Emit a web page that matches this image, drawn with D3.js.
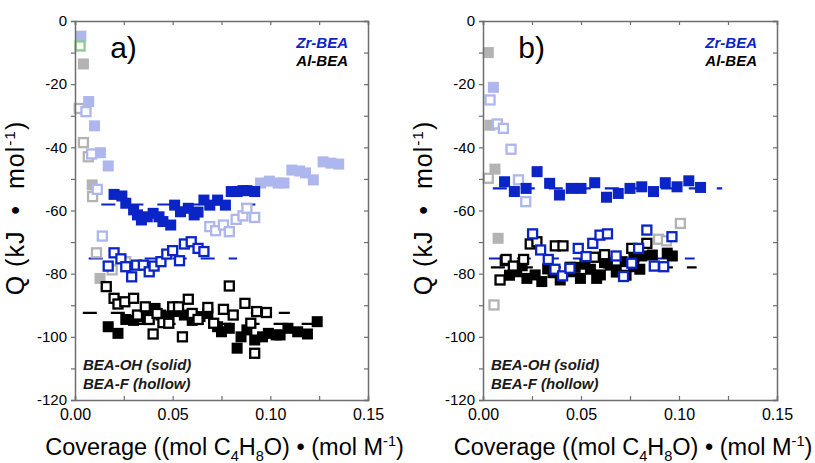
<!DOCTYPE html>
<html>
<head>
<meta charset="utf-8">
<script src="https://cdn.jsdelivr.net/npm/d3@7"></script>
<style>
  body { margin: 0; background: #fff; }
  text { font-family: Arial, "Liberation Sans", sans-serif; }
</style>
</head>
<body>
<svg id="chart" width="815" height="463"></svg>
<script>
// ---- data: [coverage, Q] ----
// panel a
const zrOH_a = [[0.020,-54.9],[0.024,-55.4],[0.026,-57.7],[0.030,-59.8],[0.032,-61.4],[0.034,-63.0],[0.037,-62.0],[0.040,-60.9],[0.043,-62.0],[0.045,-63.5],[0.049,-64.6],[0.051,-58.3],[0.054,-60.4],[0.058,-59.3],[0.061,-61.4],[0.063,-60.5],[0.066,-56.7],[0.069,-58.3],[0.073,-56.7],[0.077,-58.3],[0.080,-54.0],[0.083,-54.0],[0.086,-53.7],[0.088,-53.7],[0.092,-54.0]];
const zrOHpale_a = [[0.003,-4.8],[0.007,-25.5],[0.010,-33.2],[0.013,-41.7],[0.017,-45.9],[0.095,-51.3],[0.0995,-50.7],[0.104,-51.3],[0.107,-51.3],[0.111,-47.2],[0.115,-47.5],[0.118,-48.1],[0.122,-50.3],[0.127,-44.6],[0.131,-45.0],[0.135,-45.3]];
const zrF_a = [[0.017,-77.6],[0.020,-73.4],[0.0235,-75.3],[0.026,-77.8],[0.029,-81.0],[0.0315,-77.3],[0.035,-77.3],[0.038,-79.4],[0.0405,-77.6],[0.044,-76.2],[0.047,-73.8],[0.050,-72.7],[0.0535,-75.9],[0.056,-70.6],[0.0595,-69.9],[0.063,-72.0],[0.066,-73.0]];
const zrFpale_a = [[0.0056,-28.7],[0.0085,-42.1],[0.0114,-53.3],[0.014,-68.1],[0.069,-65.1],[0.072,-66.4],[0.076,-64.6],[0.079,-66.7],[0.0825,-62.8],[0.086,-61.7],[0.088,-59.3],[0.092,-62.2]];
const greenPale_a = [[0.0026,-7.9]];
const alOH_a = [[0.017,-96.8],[0.022,-98.9],[0.026,-94.5],[0.030,-94.8],[0.034,-93.6],[0.037,-94.5],[0.041,-91.0],[0.044,-93.1],[0.048,-93.6],[0.052,-92.0],[0.056,-93.1],[0.060,-94.8],[0.064,-93.6],[0.068,-92.6],[0.073,-96.8],[0.075,-98.4],[0.079,-97.3],[0.083,-103.6],[0.085,-100.0],[0.088,-97.8],[0.092,-101.0],[0.096,-100.0],[0.099,-98.9],[0.103,-99.4],[0.105,-99.4],[0.109,-97.3],[0.114,-98.4],[0.119,-99.1],[0.124,-95.2]];
const alOHpale_a = [[0.0043,-13.6],[0.0088,-51.9],[0.0128,-81.5]];
const alF_a = [[0.016,-84.1],[0.020,-87.8],[0.022,-89.6],[0.0255,-88.9],[0.030,-87.8],[0.032,-93.1],[0.036,-90.5],[0.038,-94.5],[0.040,-99.1],[0.042,-92.6],[0.045,-95.5],[0.048,-95.7],[0.050,-90.5],[0.053,-90.5],[0.055,-100.0],[0.058,-88.1],[0.060,-92.6],[0.063,-94.5],[0.068,-90.7],[0.071,-95.7],[0.076,-91.3],[0.079,-83.9],[0.081,-93.1],[0.087,-89.4],[0.090,-95.7],[0.092,-105.2],[0.093,-92.0],[0.098,-92.3]];
const alFpale_a = [[0.0022,-27.7],[0.0043,-38.5],[0.0068,-43.0],[0.009,-55.6],[0.011,-73.4],[0.019,-78.8],[0.026,-76.2]];

// panel b
const zrOH_b = [[0.011,-50.9],[0.016,-54.0],[0.022,-53.0],[0.0276,-47.7],[0.034,-51.4],[0.039,-55.1],[0.045,-53.0],[0.050,-53.0],[0.057,-51.2],[0.063,-55.8],[0.069,-54.6],[0.075,-53.0],[0.081,-52.5],[0.087,-54.0],[0.093,-51.2],[0.099,-52.5],[0.105,-50.6],[0.111,-52.7]];
const zrOHpale_b = [[0.0053,-21.0]];
const zrF_b = [[0.0253,-67.4],[0.0294,-72.5],[0.0333,-75.5],[0.0367,-78.6],[0.0406,-80.7],[0.0444,-78.3],[0.0486,-72.0],[0.0526,-74.6],[0.056,-70.4],[0.0597,-67.8],[0.0635,-67.4],[0.0679,-74.4],[0.0717,-80.9],[0.0759,-76.7],[0.0794,-72.0],[0.0836,-66.2],[0.0874,-77.6],[0.0922,-77.8],[0.0964,-68.3]];
const zrFpale_b = [[0.0036,-25.0],[0.0073,-32.6],[0.0104,-34.0],[0.0143,-40.6],[0.0181,-50.3],[0.0218,-57.2]];
const alOH_b = [[0.0113,-75.9],[0.0135,-80.5],[0.0172,-79.4],[0.020,-77.5],[0.0224,-81.5],[0.0266,-80.4],[0.030,-82.5],[0.033,-78.5],[0.0357,-79.7],[0.0394,-82.0],[0.0445,-79.4],[0.047,-78.0],[0.0497,-81.5],[0.052,-77.0],[0.0548,-78.6],[0.058,-81.5],[0.0599,-80.4],[0.062,-76.5],[0.065,-77.3],[0.068,-79.5],[0.071,-76.2],[0.073,-80.5],[0.0769,-77.8],[0.077,-74.7],[0.080,-78.6],[0.081,-74.4],[0.0864,-74.1],[0.094,-73.5],[0.0966,-74.4]];
const alOHpale_b = [[0.0027,-10.0],[0.0036,-33.0],[0.0061,-46.9],[0.0077,-68.8]];
const alF_b = [[0.0087,-82.0],[0.0118,-75.5],[0.0155,-77.6],[0.0207,-75.5],[0.0241,-70.6],[0.0275,-69.9],[0.0369,-71.2],[0.0408,-71.2],[0.0445,-78.0],[0.0568,-74.8],[0.062,-74.0],[0.068,-76.0],[0.0759,-72.0],[0.0836,-70.4]];
const alFpale_b = [[0.0027,-49.8],[0.0056,-89.9],[0.0896,-69.1],[0.0936,-69.6],[0.1007,-64.1]];

// average lines: [Q, from, to]
const avg_a = { zrOH: [-58.1, 0.0135, 0.093], zrF: [-75.2, 0.007, 0.083], alF: [-92.4, 0.004, 0.11], alOH: [-95.9, 0.03, 0.125] };
const avg_b = { zrOH: [-53.0, 0.005, 0.122], zrF: [-75.2, 0.003, 0.108], al: [-78.0, 0.004, 0.109] };

const xDomain = [0, 0.15];
const yDomain = [-120, 0];
const xLabels = [0, 0.05, 0.10, 0.15];

// ---- drawing ----
const BLUE = '#0a24c6', PALE_BLUE = '#aeb6ee', GRAY = '#b3b3b3';
const svg = d3.select('#chart');

function richText(sel, parts, size) {
  // parts: [text, shift] shift: 0 normal, 1 sup, -1 sub
  let cur = 0;
  parts.forEach(([t, s]) => {
    const target = s === 1 ? -size * 0.38 : s === -1 ? size * 0.25 : 0;
    sel.append('tspan')
      .attr('dy', target - cur)
      .style('font-size', (s ? size * 0.62 : size) + 'px')
      .text(t);
    cur = target;
  });
}

function drawPanel(cfg) {
  const x = d3.scaleLinear().domain(xDomain).range([cfg.left, cfg.right]);
  const y = d3.scaleLinear().domain(yDomain).range([400, 21]);
  const g = svg.append('g');

  // average dashes
  Object.values(cfg.avg).forEach(([q, a, b], i) => {
    g.append('line')
      .attr('x1', x(a)).attr('x2', x(b))
      .attr('y1', y(q)).attr('y2', y(q))
      .attr('stroke', cfg.avgColors[i])
      .attr('stroke-width', 2.2)
      .attr('stroke-dasharray', '14,14');
  });

  function solid(data, color) {
    g.append('g').selectAll('rect').data(data).enter().append('rect')
      .attr('x', d => x(d[0]) - 5.5).attr('y', d => y(d[1]) - 5.5)
      .attr('width', 11).attr('height', 11)
      .attr('fill', color);
  }
  function hollow(data, color) {
    g.append('g').selectAll('rect').data(data).enter().append('rect')
      .attr('x', d => x(d[0]) - 4.5).attr('y', d => y(d[1]) - 4.5)
      .attr('width', 9).attr('height', 9)
      .attr('fill', '#fff').attr('stroke', color).attr('stroke-width', 2.3);
  }
  cfg.series.forEach(s => (s.solid ? solid : hollow)(s.data, s.color));

  // axes
  const axisColor = '#6e6e6e';
  const left = g.append('g').attr('transform', `translate(${cfg.left},0)`)
    .call(d3.axisLeft(y).tickValues(d3.range(-120, 1, 10)).tickSize(4).tickPadding(4)
      .tickFormat(d => d % 20 === 0 ? String(d) : ''));
  const right = g.append('g').attr('transform', `translate(${cfg.right},0)`)
    .call(d3.axisLeft(y).tickValues(d3.range(-120, 1, 10)).tickSize(4).tickFormat(''));
  const top = g.append('g').attr('transform', 'translate(0,21)')
    .call(d3.axisBottom(x).tickValues(d3.range(0, 0.151, 0.025)).tickSize(4).tickFormat(''));
  const bottom = g.append('g').attr('transform', 'translate(0,400)')
    .call(d3.axisTop(x).tickValues(d3.range(0, 0.151, 0.025)).tickSize(4).tickFormat(''));
  const labels = g.append('g').attr('transform', 'translate(0,400)')
    .call(d3.axisBottom(x).tickValues(xLabels).tickSize(0).tickPadding(9).tickFormat(d3.format('.2f')));
  labels.select('.domain').remove();
  [left, right, top, bottom].forEach(a => {
    a.select('.domain').attr('stroke', axisColor).attr('stroke-width', 1.5);
    a.selectAll('.tick line').attr('stroke', axisColor).attr('stroke-width', 1.2);
  });
  left.selectAll('.tick text').style('font-size', '15px').attr('fill', '#000');
  labels.selectAll('.tick text').style('font-size', '16px').attr('fill', '#000');

  // panel letter
  g.append('text').attr('x', x(0.018)).attr('y', 58)
    .style('font-size', '30px').text(cfg.letter);

  // legend
  g.append('text').attr('x', cfg.right - 20).attr('y', 48).attr('text-anchor', 'end')
    .style('font-size', '15px').style('font-weight', 'bold').style('font-style', 'italic')
    .attr('fill', BLUE).text('Zr-BEA');
  g.append('text').attr('x', cfg.right - 20).attr('y', 66).attr('text-anchor', 'end')
    .style('font-size', '15px').style('font-weight', 'bold').style('font-style', 'italic')
    .text('Al-BEA');
  g.append('text').attr('x', cfg.left + 8).attr('y', 370)
    .style('font-size', '15px').style('font-weight', 'bold').style('font-style', 'italic')
    .attr('fill', '#1a1a1a').text('BEA-OH (solid)');
  g.append('text').attr('x', cfg.left + 8).attr('y', 389)
    .style('font-size', '15px').style('font-weight', 'bold').style('font-style', 'italic')
    .attr('fill', '#1a1a1a').text('BEA-F (hollow)');

  // axis titles
  const yt = g.append('text')
    .attr('transform', `translate(${cfg.left - 51},208) rotate(-90)`)
    .attr('text-anchor', 'middle')
    .style('letter-spacing', '1px');
  richText(yt, [['Q (kJ\u00a0\u00a0\u2022\u00a0\u00a0mol', 0], ['-1', 1], [')', 0]], 25);

  const xt = g.append('text')
    .attr('x', (cfg.left + cfg.right) / 2 + 3).attr('y', 455)
    .attr('text-anchor', 'middle');
  richText(xt, [['Coverage ((mol C', 0], ['4', -1], ['H', 0], ['8', -1], ['O) \u2022 (mol M', 0], ['-1', 1], [')', 0]], 23.5);
}

drawPanel({
  letter: 'a)', left: 75, right: 368, avg: avg_a,
  avgColors: [BLUE, BLUE, '#000', '#000'],
  series: [
    { data: alOHpale_a, color: GRAY, solid: true },
    { data: alFpale_a, color: GRAY, solid: false },
    { data: zrOHpale_a, color: PALE_BLUE, solid: true },
    { data: zrFpale_a, color: PALE_BLUE, solid: false },
    { data: greenPale_a, color: '#8cc98c', solid: false },
    { data: zrOH_a, color: BLUE, solid: true },
    { data: zrF_a, color: BLUE, solid: false },
    { data: alOH_a, color: '#000', solid: true },
    { data: alF_a, color: '#000', solid: false }
  ]
});

drawPanel({
  letter: 'b)', left: 483, right: 777, avg: avg_b,
  avgColors: [BLUE, BLUE, '#000'],
  series: [
    { data: alOHpale_b, color: GRAY, solid: true },
    { data: alFpale_b, color: GRAY, solid: false },
    { data: zrOHpale_b, color: PALE_BLUE, solid: true },
    { data: zrFpale_b, color: PALE_BLUE, solid: false },
    { data: zrOH_b, color: BLUE, solid: true },
    { data: alOH_b, color: '#000', solid: true },
    { data: alF_b, color: '#000', solid: false },
    { data: zrF_b, color: BLUE, solid: false }
  ]
});
</script>
</body>
</html>
